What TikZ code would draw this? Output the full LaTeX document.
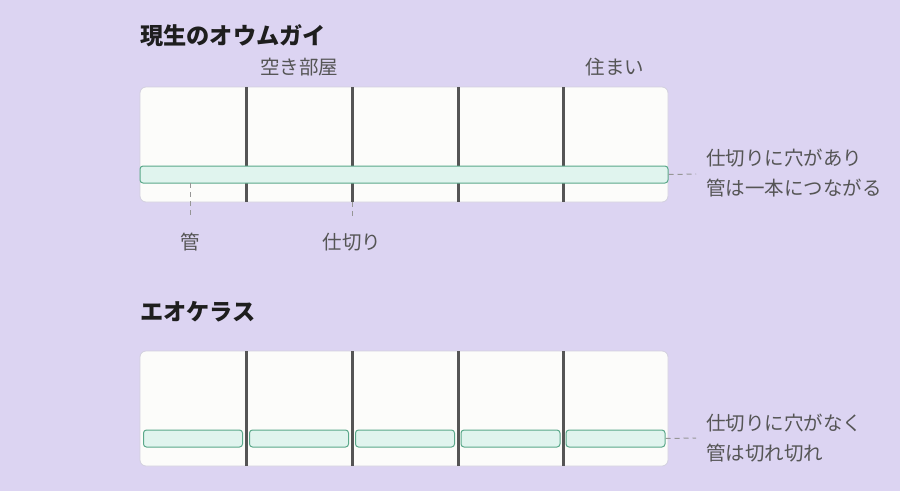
\documentclass[tikz,border=0pt]{standalone}
\usepackage{fontspec}
\setmainfont{Noto Sans CJK JP}
\definecolor{bg}{RGB}{220,212,242}
\definecolor{boxfill}{RGB}{252,252,250}
\definecolor{boxline}{RGB}{210,208,222}
\definecolor{wall}{RGB}{85,85,85}
\definecolor{pipefill}{RGB}{224,244,238}
\definecolor{pipeline}{RGB}{90,168,138}
\definecolor{txt}{RGB}{85,85,85}
\definecolor{ttlc}{RGB}{30,30,30}
\definecolor{lead}{RGB}{150,150,150}
\tikzset{
  x=1pt,y=-1pt,
  chamber/.style={draw=boxline,fill=boxfill,rounded corners=6pt,line width=0.8pt},
  wallline/.style={draw=wall,line width=3pt},
  pipe/.style={draw=pipeline,fill=pipefill,rounded corners=3pt,line width=1pt},
  leader/.style={draw=lead,dashed,dash pattern=on 5pt off 4pt,line width=1pt},
  lbl/.style={text=txt,font=\fontsize{19.5}{24}\selectfont,inner sep=0pt},
  ttl/.style={text=ttlc,font=\fontsize{23.2}{26}\selectfont\bfseries,inner sep=0pt,anchor=west},
  note/.style={text=txt,font=\fontsize{19.5}{30}\selectfont,inner sep=0pt,anchor=west,align=left},
}
\begin{document}
\begin{tikzpicture}
\fill[bg] (0,0) rectangle (900,491);
\useasboundingbox (0,0) rectangle (900,491);
% top
\node[ttl] (t1) at (140,36) {現生のオウムガイ};
\node[lbl] (empty) at (299,67) {空き部屋};
\node[lbl] (live) at (615,67) {住まい};
\path[chamber] (140,87) rectangle (668,202);
\foreach \x [count=\i] in {246,352,458,563} {
  \coordinate (w1t\i) at (\x,87);
  \coordinate (w1b\i) at (\x,202);
  \draw[wallline] (w1t\i) -- (w1b\i);
}
\node[pipe,minimum width=528pt,minimum height=17pt,inner sep=0pt] (p1) at (404,174.5) {};
\coordinate (pl) at (190,183);
\coordinate (pe) at (190,218);
\draw[leader] (pl) -- (pe);
\node[lbl] (kan) at (190,242) {管};
\coordinate (we) at (352,218);
\draw[leader] (w1b2) -- (we);
\node[lbl] (sikiri) at (352,242) {仕切り};
\coordinate (n1e) at (696,174);
\draw[leader] (p1.east) -- (n1e);
\node[note] (n1) at (706,173) {仕切りに穴があり\\管は一本につながる};
% bottom
\node[ttl] (t2) at (140,312) {エオケラス};
\path[chamber] (140,351) rectangle (668,466);
\foreach \x [count=\i] in {246,352,458,563} {
  \coordinate (w2t\i) at (\x,351);
  \coordinate (w2b\i) at (\x,466);
  \draw[wallline] (w2t\i) -- (w2b\i);
}
\foreach \x [count=\i] in {193,299,405,510.5,615.5} {
  \node[pipe,minimum width=99pt,minimum height=17pt,inner sep=0pt] (q\i) at (\x,438.5) {};
}
\coordinate (n2e) at (696,438);
\draw[leader] (q5.east) -- (n2e);
\node[note] (n2) at (706,438) {仕切りに穴がなく\\管は切れ切れ};
\end{tikzpicture}
\end{document}
